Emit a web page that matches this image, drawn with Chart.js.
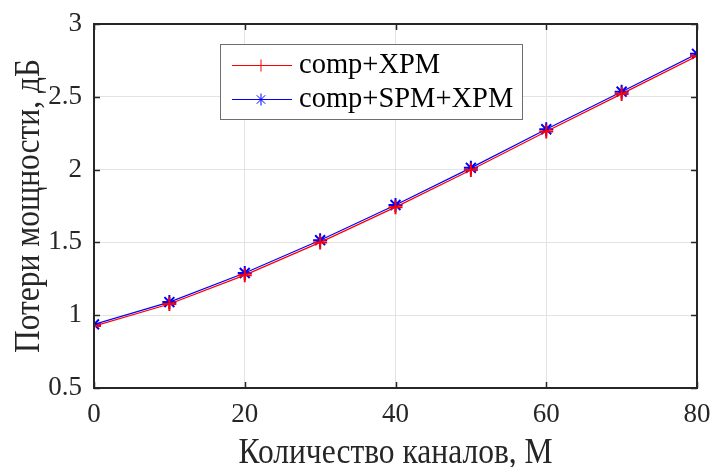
<!DOCTYPE html>
<html>
<head>
<meta charset="utf-8">
<script src="https://cdn.jsdelivr.net/npm/chart.js@4.4.1/dist/chart.umd.min.js"></script>
<style>
  html, body { margin: 0; padding: 0; background: #fff; }
  #wrap { width: 711px; height: 467px; }
</style>
</head>
<body>
<div id="wrap"><canvas id="chart" width="711" height="467"></canvas></div>
<script>
// channel count M
const channels = [0, 10, 20, 30, 40, 50, 60, 70, 80];
// power loss, dB
const compXpm = [0.925, 1.077, 1.275, 1.50, 1.742, 1.997, 2.262, 2.52, 2.78];
const compSpmXpm = [0.937, 1.09, 1.29, 1.515, 1.757, 2.012, 2.277, 2.535, 2.795];
const seriesNames = ["comp+XPM", "comp+SPM+XPM"];
const xTicks = [0, 20, 40, 60, 80];
const yTicks = [0.5, 1, 1.5, 2, 2.5, 3];
const xTitle = "Количество каналов, М";
const yTitle = "Потери мощности, дБ";

const serif = "'Liberation Serif', 'Times New Roman', serif";
const ink = "#262626";

function pts(ys) {
  return channels.map((x, i) => ({ x: x, y: ys[i] }));
}

// box around the axes with inward ticks, MATLAB style
const boxPlugin = {
  id: "box",
  afterDatasetsDraw(chart) {
    const ctx = chart.ctx, a = chart.chartArea;
    const xs = chart.scales.x, ys = chart.scales.y;
    ctx.save();
    ctx.strokeStyle = ink;
    ctx.lineWidth = 1.5;
    ctx.beginPath();
    for (const v of xTicks) {
      const px = Math.round(xs.getPixelForValue(v)) + 0.5;
      ctx.moveTo(px, a.bottom); ctx.lineTo(px, a.bottom - 6);
      ctx.moveTo(px, a.top); ctx.lineTo(px, a.top + 6);
    }
    for (const v of yTicks) {
      const py = Math.round(ys.getPixelForValue(v)) + 0.5;
      ctx.moveTo(a.left, py); ctx.lineTo(a.left + 6, py);
      ctx.moveTo(a.right, py); ctx.lineTo(a.right - 6, py);
    }
    ctx.stroke();
    ctx.lineWidth = 2;
    ctx.strokeRect(a.left, a.top, a.right - a.left, a.bottom - a.top);
    ctx.restore();
  },
  afterDraw(chart) {
    const ctx = chart.ctx, a = chart.chartArea;
    // axis titles
    ctx.save();
    ctx.fillStyle = ink;
    ctx.font = "35px " + serif;
    ctx.textAlign = "center";
    ctx.textBaseline = "alphabetic";
    ctx.save();
    ctx.translate((a.left + a.right) / 2, 463);
    ctx.scale(0.9, 1);
    ctx.fillText(xTitle, 0, 0);
    ctx.restore();
    ctx.save();
    ctx.translate(39, (a.top + a.bottom) / 2);
    ctx.rotate(-Math.PI / 2);
    ctx.scale(0.9, 1);
    ctx.fillText(yTitle, 0, 0);
    ctx.restore();
    ctx.restore();

    // legend inside the axes
    const bx = 220, by = 44, bw = 302, bh = 75;
    ctx.save();
    ctx.fillStyle = "#fff";
    ctx.fillRect(bx, by, bw, bh);
    ctx.strokeStyle = "#6e6e6e";
    ctx.lineWidth = 1;
    ctx.strokeRect(bx + 0.5, by + 0.5, bw, bh);
    const rows = [65, 99];
    chart.data.datasets.forEach((ds, i) => {
      const y = rows[i];
      ctx.strokeStyle = ds.borderColor;
      ctx.lineWidth = 1;
      ctx.beginPath();
      ctx.moveTo(232, y + 0.5); ctx.lineTo(292, y + 0.5);
      ctx.stroke();
      Chart.helpers.drawPoint(ctx, {
        pointStyle: ds.pointStyle, radius: 6, borderWidth: 2
      }, 261, y + 0.5);
      ctx.fillStyle = "#000";
      ctx.font = "28.5px " + serif;
      ctx.textBaseline = "middle";
      ctx.fillText(ds.label, 299, y + 1);
    });
    ctx.restore();
  }
};

new Chart(document.getElementById("chart"), {
  type: "line",
  data: {
    datasets: [
      {
        label: seriesNames[0],
        data: pts(compXpm),
        borderColor: "#ff0000",
        backgroundColor: "#ff0000",
        borderWidth: 1.2,
        pointStyle: "cross",
        pointRadius: 7,
        pointBorderWidth: 2,
        tension: 0
      },
      {
        label: seriesNames[1],
        data: pts(compSpmXpm),
        borderColor: "#0000ff",
        backgroundColor: "#0000ff",
        borderWidth: 1.2,
        pointStyle: "star",
        pointRadius: 7,
        pointBorderWidth: 2,
        tension: 0
      }
    ]
  },
  options: {
    responsive: false,
    animation: false,
    layout: { padding: { left: 0, right: 14, top: 24, bottom: 0 } },
    plugins: { legend: { display: false }, tooltip: { enabled: false } },
    scales: {
      x: {
        type: "linear",
        min: 0, max: 80,
        afterBuildTicks: s => { s.ticks = xTicks.map(v => ({ value: v })); },
        afterFit: s => { s.height = 79; s.paddingLeft = 0; s.paddingRight = 0; },
        grid: { color: "#e3e3e3", drawTicks: false },
        border: { display: false },
        ticks: { color: ink, padding: 11, font: { family: serif, size: 27 } }
      },
      y: {
        min: 0.5, max: 3,
        afterBuildTicks: s => { s.ticks = yTicks.map(v => ({ value: v })); },
        afterFit: s => { s.width = 94; s.paddingTop = 0; s.paddingBottom = 0; },
        grid: { color: "#e3e3e3", drawTicks: false },
        border: { display: false },
        ticks: {
          color: ink, padding: 12, font: { family: serif, size: 27 },
          callback: v => String(v)
        }
      }
    }
  },
  plugins: [boxPlugin]
});
</script>
</body>
</html>
